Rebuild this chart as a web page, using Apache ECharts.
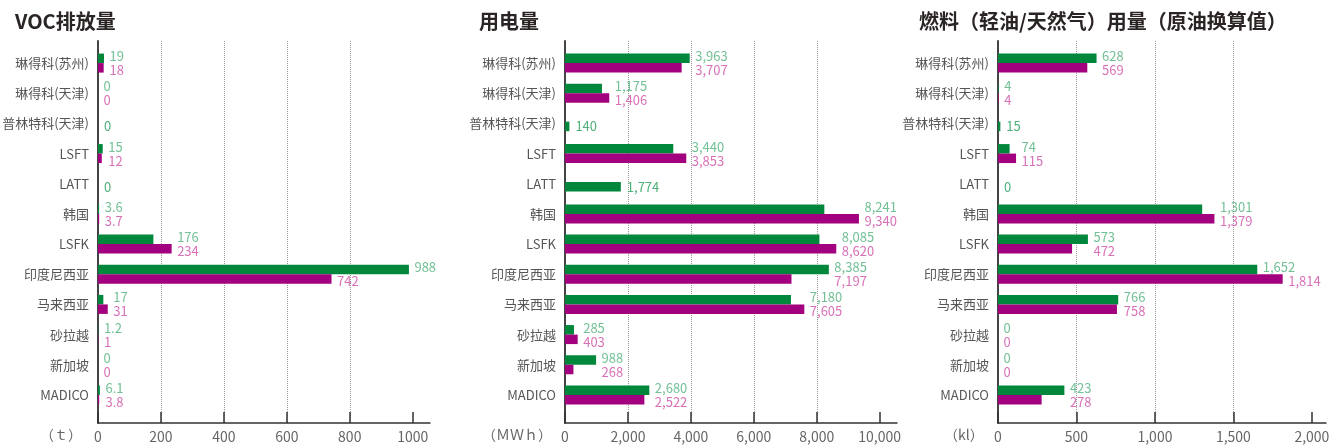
<!DOCTYPE html>
<html lang="zh">
<head>
    <meta charset="UTF-8">
    <title>VOC排放量 / 用电量 / 燃料用量</title>
    <script src="https://cdn.jsdelivr.net/npm/echarts@6/dist/echarts.min.js"></script>
    <style>
        html, body {margin: 0; padding: 0; background: #fff;}
        #main {width: 1342px; height: 448px;}
    </style>
</head>
<body>
<div id="main"></div>
<script>
    var categories = ['琳得科(苏州)', '琳得科(天津)', '普林特科(天津)', 'LSFT', 'LATT', '韩国', 'LSFK', '印度尼西亚', '马来西亚', '砂拉越', '新加坡', 'MADICO'];

    // 绿色 / 紫色两组数据, null = 该据点只有一个值
    var vocGreen = [19, 0, 0, 15, 0, 3.6, 176, 988, 17, 1.2, 0, 6.1];
    var vocPurple = [18, 0, null, 12, null, 3.7, 234, 742, 31, 1, 0, 3.8];
    var vocTicks = [0, 200, 400, 600, 800, 1000];

    var powerGreen = [3963, 1175, 140, 3440, 1774, 8241, 8085, 8385, 7180, 285, 988, 2680];
    var powerPurple = [3707, 1406, null, 3853, null, 9340, 8620, 7197, 7605, 403, 268, 2522];
    var powerTicks = [0, 2000, 4000, 6000, 8000, 10000];

    var fuelGreen = [628, 4, 15, 74, 0, 1301, 573, 1652, 766, 0, 0, 423];
    var fuelPurple = [569, 4, null, 115, null, 1379, 472, 1814, 758, 0, 0, 278];
    var fuelTicks = [0, 500, 1000, 1500, 2000];

    var FONT = '"Noto Sans CJK SC", "Noto Sans", sans-serif';
    var GREEN = '#00873c', PURPLE = '#a2007e';
    var GREEN_TXT = '#4fb07a', PURPLE_TXT = '#cf4ea6';

    function fmt(v) {
        return Number(v).toLocaleString('en-US');
    }

    var option = {
        animation: false,
        textStyle: {fontFamily: FONT},
        title: [],
        grid: [],
        xAxis: [],
        yAxis: [],
        series: [],
        graphic: []
    };

    function addPanel(p) {
        var g = option.grid.length;
        // 外框 (坐标轴线, 刻度, 虚线)
        option.grid.push({left: p.left, width: p.width, top: 41, height: 382, outerBoundsMode: 'none', containLabel: false});
        // 柱子
        option.grid.push({left: p.left, width: p.width, top: 48, height: 362, outerBoundsMode: 'none', containLabel: false});
        // 只有一个值的据点, 稍微往下
        option.grid.push({left: p.left, width: p.width, top: 51, height: 362, outerBoundsMode: 'none', containLabel: false});

        option.xAxis.push({
            gridIndex: g, type: 'value', min: 0, max: p.max, interval: p.ticks[1] - p.ticks[0],
            axisLine: {show: true, onZero: false, lineStyle: {color: '#333', width: 1.5}},
            axisTick: {show: true, inside: true, length: 11, customValues: p.ticks, lineStyle: {color: '#333', width: 1.5}},
            axisLabel: {
                customValues: p.ticks, color: '#666', fontSize: 14, margin: 7, fontFamily: FONT,
                formatter: function (v) { return p.ticks.indexOf(v) >= 0 ? p.fmtTick(v) : ''; }
            },
            splitLine: {show: true, showMinLine: false, showMaxLine: false, lineStyle: {type: 'dotted', color: '#999', width: 1}}
        });
        option.yAxis.push({
            gridIndex: g, type: 'value', min: 0, max: 1,
            axisLine: {show: true, onZero: false, lineStyle: {color: '#444', width: 2}},
            axisTick: {show: false}, axisLabel: {show: false}, splitLine: {show: false}
        });

        option.xAxis.push({gridIndex: g + 1, type: 'value', min: 0, max: p.max, show: false});
        option.yAxis.push({
            gridIndex: g + 1, type: 'category', data: categories, inverse: true,
            axisLine: {show: false}, axisTick: {show: false},
            axisLabel: {color: '#555', fontSize: 13, margin: 9, fontFamily: FONT}
        });
        option.xAxis.push({gridIndex: g + 2, type: 'value', min: 0, max: p.max, show: false});
        option.yAxis.push({gridIndex: g + 2, type: 'category', data: categories, inverse: true, show: false});

        var pairG = [], pairP = [], single = [], lblG = [], lblP = [];
        categories.forEach(function (c, i) {
            var a = p.green[i], b = p.purple[i];
            if (b == null) {
                pairG.push(null);
                pairP.push(null);
                single.push(a);
                return;
            }
            pairG.push(a);
            pairP.push(b);
            single.push(null);
            var own = p.ownLabels.indexOf(c) >= 0;
            var m = Math.max(a, b);
            lblG.push({value: [own ? a : m, i], label: {formatter: fmt(a)}});
            lblP.push({value: [own ? b : m, i], label: {formatter: fmt(b)}});
        });

        option.series.push({
            type: 'bar', xAxisIndex: g + 1, yAxisIndex: g + 1, data: pairG,
            barWidth: 9.5, barGap: 0, itemStyle: {color: GREEN}, silent: true
        });
        option.series.push({
            type: 'bar', xAxisIndex: g + 1, yAxisIndex: g + 1, data: pairP,
            barWidth: 9.5, barGap: 0, itemStyle: {color: PURPLE}, silent: true
        });
        option.series.push({
            type: 'bar', xAxisIndex: g + 2, yAxisIndex: g + 2, data: single,
            barWidth: 9.5, itemStyle: {color: GREEN}, silent: true,
            label: {show: true, position: 'right', distance: 6, color: GREEN_TXT, fontSize: 13, fontFamily: FONT, formatter: function (d) { return fmt(d.value); }}
        });
        option.series.push({
            type: 'scatter', xAxisIndex: g + 1, yAxisIndex: g + 1, data: lblG, symbolSize: 1,
            itemStyle: {color: 'rgba(0,0,0,0)'}, silent: true,
            label: {show: true, position: 'right', distance: 5, offset: [0, -7], color: GREEN_TXT, fontSize: 13, fontFamily: FONT}
        });
        option.series.push({
            type: 'scatter', xAxisIndex: g + 1, yAxisIndex: g + 1, data: lblP, symbolSize: 1,
            itemStyle: {color: 'rgba(0,0,0,0)'}, silent: true,
            label: {show: true, position: 'right', distance: 5, offset: [0, 7], color: PURPLE_TXT, fontSize: 13, fontFamily: FONT}
        });

        option.title.push({
            text: p.title, left: p.titleLeft, top: 6,
            textStyle: {fontSize: 20, fontWeight: 'bold', color: '#2a2424', fontFamily: FONT}
        });
        option.graphic.push({
            type: 'text', left: p.unitLeft, top: 428,
            style: {text: p.unit, fill: '#666', font: '14px ' + FONT}
        });
    }

    addPanel({
        title: 'VOC排放量', titleLeft: 10, unit: '（ｔ）', unitLeft: 40,
        left: 98, width: 332, max: 1055, ticks: vocTicks,
        fmtTick: function (v) { return String(v); },
        green: vocGreen, purple: vocPurple, ownLabels: ['印度尼西亚']
    });
    addPanel({
        title: '用电量', titleLeft: 474, unit: '（ＭＷｈ）', unitLeft: 482,
        left: 565, width: 332, max: 10550, ticks: powerTicks,
        fmtTick: fmt,
        green: powerGreen, purple: powerPurple, ownLabels: []
    });
    addPanel({
        title: '燃料（轻油/天然气）用量（原油换算值）', titleLeft: 914, unit: '（kl）', unitLeft: 944,
        left: 998, width: 328, max: 2090, ticks: fuelTicks,
        fmtTick: fmt,
        green: fuelGreen, purple: fuelPurple, ownLabels: ['印度尼西亚']
    });

    var chart = echarts.init(document.getElementById('main'));
    chart.setOption(option);
</script>
</body>
</html>
